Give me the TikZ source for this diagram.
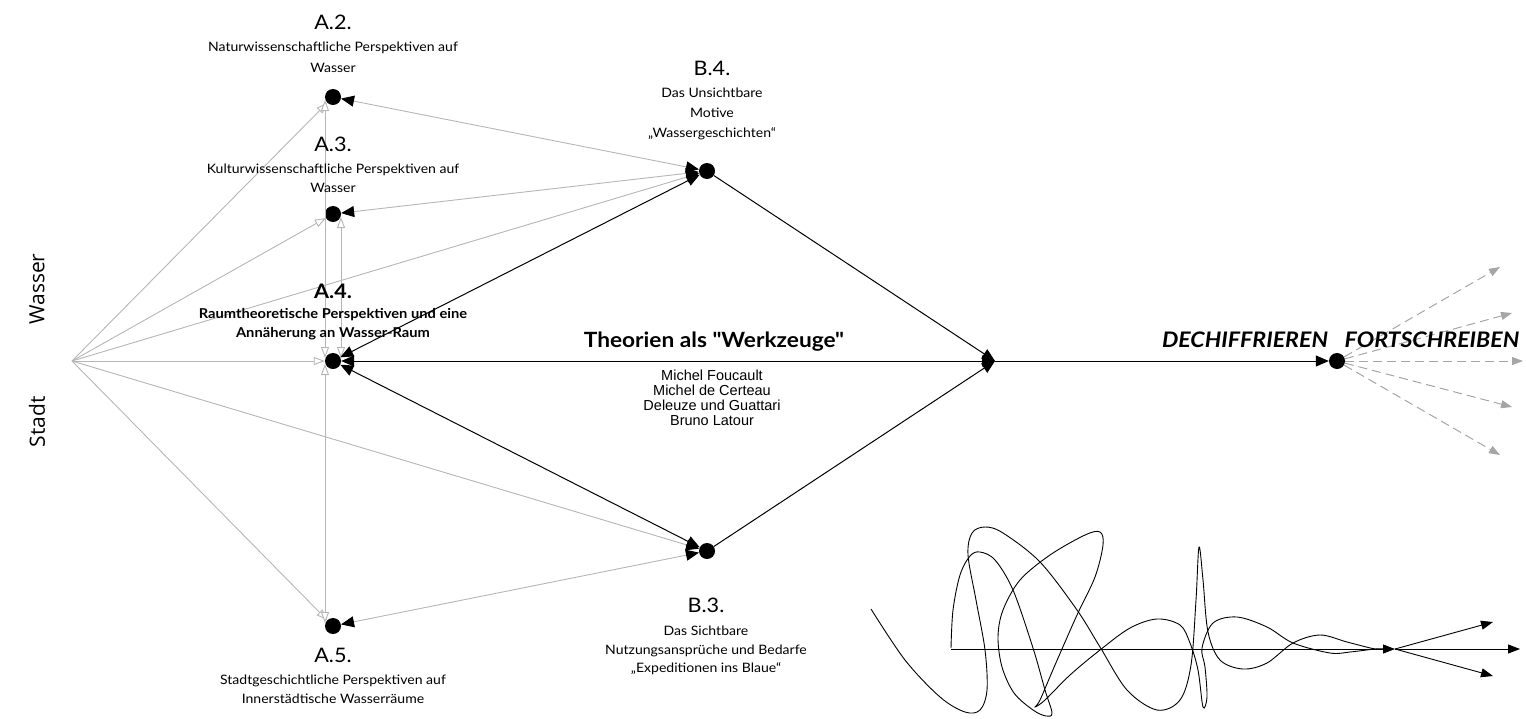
\documentclass[tikz,border=0pt]{standalone}
\usepackage{fontspec}
\setmainfont{Lato}[Ligatures=TeXOff,FakeStretch=1.08]
\newfontfamily\arialf{Liberation Sans}
\newfontfamily\sidef{Open Sans}
\usetikzlibrary{arrows.meta,calc}
\definecolor{lgray}{RGB}{182,182,182}
\definecolor{dgray}{RGB}{165,165,165}
\tikzset{
  dot/.style={circle,fill=black,inner sep=0pt,minimum size=16pt},
  gl/.style={draw=lgray,line width=0.9pt},
  bl/.style={draw=black,line width=1pt},
  dl/.style={draw=dgray,line width=1pt,dash pattern=on 9pt off 5pt},
  oa/.tip={Triangle[open,fill=white,length=11pt,width=8pt]},
  ba/.tip={Triangle[color=black,length=13pt,width=11pt]},
  sa/.tip={Triangle[color=black,length=12pt,width=9pt]},
  da/.tip={Triangle[color=dgray,length=11pt,width=8pt]},
  hd/.style={inner sep=0pt,font=\fontsize{20}{24}\selectfont},
  ds/.style={inner sep=0pt,align=center},
  sq/.style={draw=black,line width=0.9pt},
}
\begin{document}
\begin{tikzpicture}[x=1pt,y=-1pt]
\useasboundingbox (0,0) rectangle (1526,718);
% points
\coordinate (O) at (72,361);
\coordinate (J) at (995,361);
\node[dot] (A2) at (333,97) {};
\node[dot] (A3) at (333,214) {};
\node[dot] (A4) at (333,361) {};
\node[dot] (A5) at (333,626) {};
\node[dot] (B4) at (707,171) {};
\node[dot] (B3) at (707,551) {};
\node[dot] (F) at (1337,361) {};
% gray fan from O
\draw[gl,-oa] (O) -- (A2);
\draw[gl,-oa] (O) -- (A3);
\draw[gl,-oa] (O) -- (A4);
\draw[gl,-oa] (O) -- (A5);
\draw[gl,-ba] (O) -- (B4);
\draw[gl,-ba] (O) -- (B3);
% verticals
\draw[gl,oa-oa] ($(A2)+(-8,3)$) -- ($(A4)+(-8,-3)$);
\draw[gl,oa-oa] ($(A4)+(-8,3)$) -- ($(A5)+(-8,-3)$);
\draw[gl,oa-oa] ($(A3)+(8,3)$) -- ($(A4)+(8,-3)$);
% gray links with black heads
\draw[gl,ba-ba] (A2) -- (B4);
\draw[gl,ba-ba] (A3) -- (B4);
\draw[gl,ba-ba] (A5) -- (B3);
% black links
\draw[bl,ba-ba] (A4) -- (B4);
\draw[bl,ba-ba] (A4) -- (B3);
\draw[bl,ba-ba] (A4) -- (J);
\draw[bl,-ba] (B4) -- (J);
\draw[bl,-ba] (B3) -- (J);
\draw[bl,-ba] (J) -- (F);
% dashed
\coordinate (D1) at (1500,267);
\coordinate (D2) at (1512,313);
\coordinate (D3) at (1523,361);
\coordinate (D4) at (1512,407);
\coordinate (D5) at (1500,455);
\foreach \d in {D1,D2,D3,D4,D5} \draw[dl,-da] (F) -- (\d);
% texts
\node[hd] (A2h) at (333,22) {A.2.};
\node[ds,font=\fontsize{13}{20.7}\selectfont] (A2d) at (333,57) {Naturwissenschaftliche Perspektiven auf\\Wasser};
\node[hd] (A3h) at (333,144) {A.3.};
\node[ds,font=\fontsize{13}{19.5}\selectfont] (A3d) at (333,178.5) {Kulturwissenschaftliche Perspektiven auf\\Wasser};
\node[hd,font=\fontsize{20}{24}\bfseries\selectfont] (A4h) at (333,291) {A.4.};
\node[ds,font=\fontsize{13.6}{19}\bfseries\selectfont] (A4d) at (333,324.5) {Raumtheoretische Perspektiven und eine\\Annäherung an Wasser-Raum};
\node[hd] (A5h) at (333,655) {A.5.};
\node[ds,font=\fontsize{13}{19}\selectfont] (A5d) at (333,689) {Stadtgeschichtliche Perspektiven auf\\Innerstädtische Wasserräume};
\node[hd] (B4h) at (712,68) {B.4.};
\node[ds,font=\fontsize{13}{20}\selectfont] (B4d) at (712,114) {Das Unsichtbare\\Motive\\„Wassergeschichten“};
\node[hd] (B3h) at (706,605) {B.3.};
\node[ds,font=\fontsize{13}{18.5}\selectfont] (B3d) at (706,650.5) {Das Sichtbare\\Nutzungsansprüche und Bedarfe\\„Expeditionen ins Blaue“};
\node[inner sep=0pt,font=\fontsize{21}{24}\bfseries\selectfont] (T) at (714,342) {Theorien als "Werkzeuge"};
\node[ds,font=\arialf\fontsize{14.5}{15}\selectfont] (N) at (712,398) {Michel Foucault\\Michel de Certeau\\Deleuze und Guattari\\Bruno Latour};
\node[inner sep=0pt,font=\fontsize{21.4}{24}\bfseries\itshape\selectfont] (DE) at (1245,340) {DECHIFFRIEREN};
\node[inner sep=0pt,font=\fontsize{21.4}{24}\bfseries\itshape\selectfont] (FO) at (1432,340) {FORTSCHREIBEN};
\node[inner sep=0pt,rotate=90,font=\sidef\fontsize{21}{24}\selectfont] (W) at (37,289) {Wasser};
\node[inner sep=0pt,rotate=90,font=\sidef\fontsize{21}{24}\selectfont] (S) at (37,422) {Stadt};
% squiggle
\coordinate (X0) at (951,649);
\coordinate (X1) at (1395,649);
\coordinate (X2) at (1493,622);
\coordinate (X3) at (1520,649);
\coordinate (X4) at (1493,676);
\draw[sq,-sa] (X0) -- (X1);
\draw[sq,-sa] (X1) -- (X2);
\draw[sq,-sa] (X1) -- (X3);
\draw[sq,-sa] (X1) -- (X4);
\draw[sq] plot[smooth,tension=0.55] coordinates {(871,609) (905,660) (940,697) (965,712) (980,710) (987,690) (985,650) (976,600) (968,555) (972,533) (985,527) (1003,533) (1040,562) (1077,610) (1100,647) (1127,690) (1157,710) (1180,700) (1191,665) (1196,600) (1199,547) (1203,580) (1208,632) (1220,660) (1243,669) (1267,663) (1293,643) (1320,635) (1347,642) (1375,649) (1385,649)};
\draw[sq] plot[smooth,tension=0.55] coordinates {(951,648) (953,610) (960,575) (970,556) (980,552) (995,560) (1013,590) (1033,648) (1045,690) (1052,713) (1046,716) (1033,710) (1014,693) (1002,667) (998,637) (1003,610) (1020,580) (1050,555) (1085,535) (1100,532) (1103,545) (1095,577) (1077,615) (1055,665) (1040,700) (1035,707) (1045,700) (1070,675) (1100,650) (1130,628) (1157,619) (1180,625) (1190,643) (1198,670) (1203,707) (1207,697) (1205,667) (1202,648) (1213,623) (1237,617) (1267,627) (1293,643) (1330,653) (1350,652) (1375,649) (1385,649)};
\end{tikzpicture}
\end{document}
